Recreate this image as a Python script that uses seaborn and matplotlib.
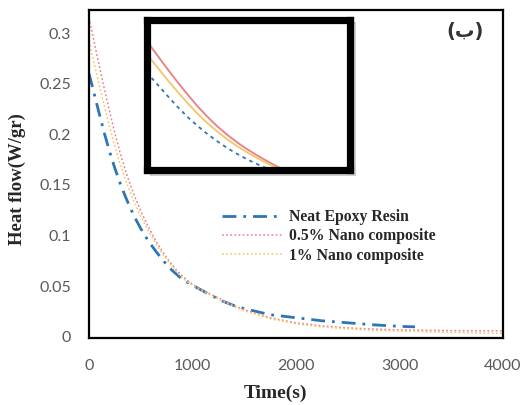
import matplotlib
matplotlib.use("Agg")
import matplotlib.pyplot as plt
import seaborn as sns
import pandas as pd
from matplotlib.patches import Rectangle

# Heat flow curves (time in s, heat flow in W/gr)
time_neat = [0, 50, 100, 150, 200, 250, 300, 350, 400, 450, 500, 550, 600, 650,
             700, 750, 800, 850, 900, 950, 1000, 1100, 1200, 1300, 1400, 1500,
             1750, 2000, 2250, 2500, 2750, 3000, 3150]
flow_neat = [0.260, 0.240, 0.220, 0.2005, 0.1825, 0.1665, 0.152, 0.139, 0.127,
             0.1165, 0.107, 0.0985, 0.091, 0.084, 0.0775, 0.0715, 0.066, 0.0615,
             0.057, 0.054, 0.051, 0.0455, 0.040, 0.035, 0.031, 0.028, 0.022, 0.019,
             0.016, 0.014, 0.012, 0.0105, 0.010]

time_comp = [0, 50, 100, 150, 200, 250, 300, 350, 400, 450, 500, 550, 600, 650,
             700, 750, 800, 850, 900, 950, 1000, 1100, 1200, 1300, 1400, 1500,
             1750, 2000, 2250, 2500, 2750, 3000, 3500, 4000]
flow_05 = [0.315, 0.291, 0.267, 0.244, 0.222, 0.201, 0.182, 0.165, 0.150, 0.1365,
           0.1245, 0.1135, 0.1035, 0.094, 0.086, 0.0785, 0.0715, 0.0655, 0.0605,
           0.056, 0.052, 0.046, 0.041, 0.036, 0.031, 0.027, 0.019, 0.014, 0.011,
           0.009, 0.0078, 0.007, 0.0063, 0.006]
flow_1 = [0.292, 0.270, 0.248, 0.227, 0.207, 0.188, 0.171, 0.156, 0.142, 0.130,
          0.119, 0.109, 0.100, 0.0915, 0.0835, 0.0765, 0.070, 0.064, 0.0585,
          0.0545, 0.051, 0.045, 0.040, 0.035, 0.030, 0.026, 0.018, 0.013, 0.010,
          0.008, 0.0065, 0.0058, 0.0045, 0.0035]

labels = ["Neat Epoxy Resin", "0.5% Nano composite", "1% Nano composite"]
x_ticks = [0, 1000, 2000, 3000, 4000]
y_ticks = [0, 0.05, 0.1, 0.15, 0.2, 0.25, 0.3]
y_tick_labels = ["0", "0.05", "0.1", "0.15", "0.2", "0.25", "0.3"]

c_neat = "#2e75b6"
c_05 = "#e8858c"
c_1 = "#f5c870"

sns.set_theme(style="white")
plt.rcParams["font.family"] = ["Lato", "DejaVu Sans"]

fig = plt.figure(figsize=(5.23, 4.05), dpi=100)
ax = fig.add_axes([89 / 523, 1 - 338 / 405, 414 / 523, 328 / 405])

df_neat = pd.DataFrame({"t": time_neat, "q": flow_neat})
df_05 = pd.DataFrame({"t": time_comp, "q": flow_05})
df_1 = pd.DataFrame({"t": time_comp, "q": flow_1})


def draw_curves(axis, inset=False):
    sns.lineplot(data=df_neat, x="t", y="q", ax=axis, color=c_neat,
                 linestyle=(0, (2, 2.2)) if inset else (0, (5, 2.5, 1, 2.5)),
                 linewidth=1.3 if inset else 2.0, label=labels[0])
    sns.lineplot(data=df_05, x="t", y="q", ax=axis, color=c_05,
                 linestyle="-" if inset else (0, (1.2, 1.5)),
                 linewidth=1.4 if inset else 1.1, label=labels[1])
    sns.lineplot(data=df_1, x="t", y="q", ax=axis, color=c_1,
                 linestyle="-" if inset else (0, (1.2, 1.5)),
                 linewidth=1.4 if inset else 1.1, label=labels[2])


draw_curves(ax)
ax.set_xlim(0, 4000)
ax.set_ylim(-0.001, 0.3227)
ax.set_xticks(x_ticks)
ax.set_xticklabels([str(v) for v in x_ticks])
ax.set_yticks(y_ticks)
ax.set_yticklabels(y_tick_labels)
ax.tick_params(axis="both", length=0, labelsize=11.5, labelcolor="#595959")
ax.tick_params(axis="y", pad=13)
ax.tick_params(axis="x", pad=15)
for s in ax.spines.values():
    s.set_color("black")
    s.set_linewidth(1.6)
ax.set_xlabel("")
ax.set_ylabel("")
fig.text(17 / 523, 1 - 179 / 405, "Heat flow(W/gr)", fontfamily="Liberation Serif",
         fontweight="bold", fontsize=13.5, rotation=90, ha="center", va="center")
fig.text(275 / 523, 1 - 393 / 405, "Time(s)", fontfamily="Liberation Serif",
         fontweight="bold", fontsize=14, ha="center", va="center")

leg = ax.legend(loc="upper left", bbox_to_anchor=(222 / 523, 1 - 209 / 405),
                bbox_transform=fig.transFigure, frameon=False, borderpad=0,
                borderaxespad=0, handlelength=3.9, handletextpad=0.35,
                labelspacing=0.22,
                prop={"family": "Liberation Serif", "weight": "bold", "size": 11.3})

ax.text(0.908, 0.933, "(ب)", transform=ax.transAxes, ha="center", va="center",
        fontsize=14, fontweight="bold", color="#333333",
        fontfamily=["DejaVu Sans"])

# inset: zoom on the early part of the curves
shadow = Rectangle((150 / 523, 1 - 176 / 405), 206 / 523, 154 / 405,
                   transform=fig.transFigure, facecolor="#b0b0b0", edgecolor="none",
                   alpha=0.6, zorder=5)
fig.patches.append(shadow)
ins = fig.add_axes([146.5 / 523, 1 - 169.5 / 405, 203 / 523, 150 / 405], zorder=6)
draw_curves(ins, inset=True)
if ins.get_legend():
    ins.get_legend().remove()
ins.set_xlim(0, 1000)
ins.set_ylim(0.09, 0.352)
ins.set_xticks([])
ins.set_yticks([])
ins.set_xlabel("")
ins.set_ylabel("")
ins.set_facecolor("white")
for s in ins.spines.values():
    s.set_color("black")
    s.set_linewidth(5.2)

fig.savefig("out.png", dpi=100)
